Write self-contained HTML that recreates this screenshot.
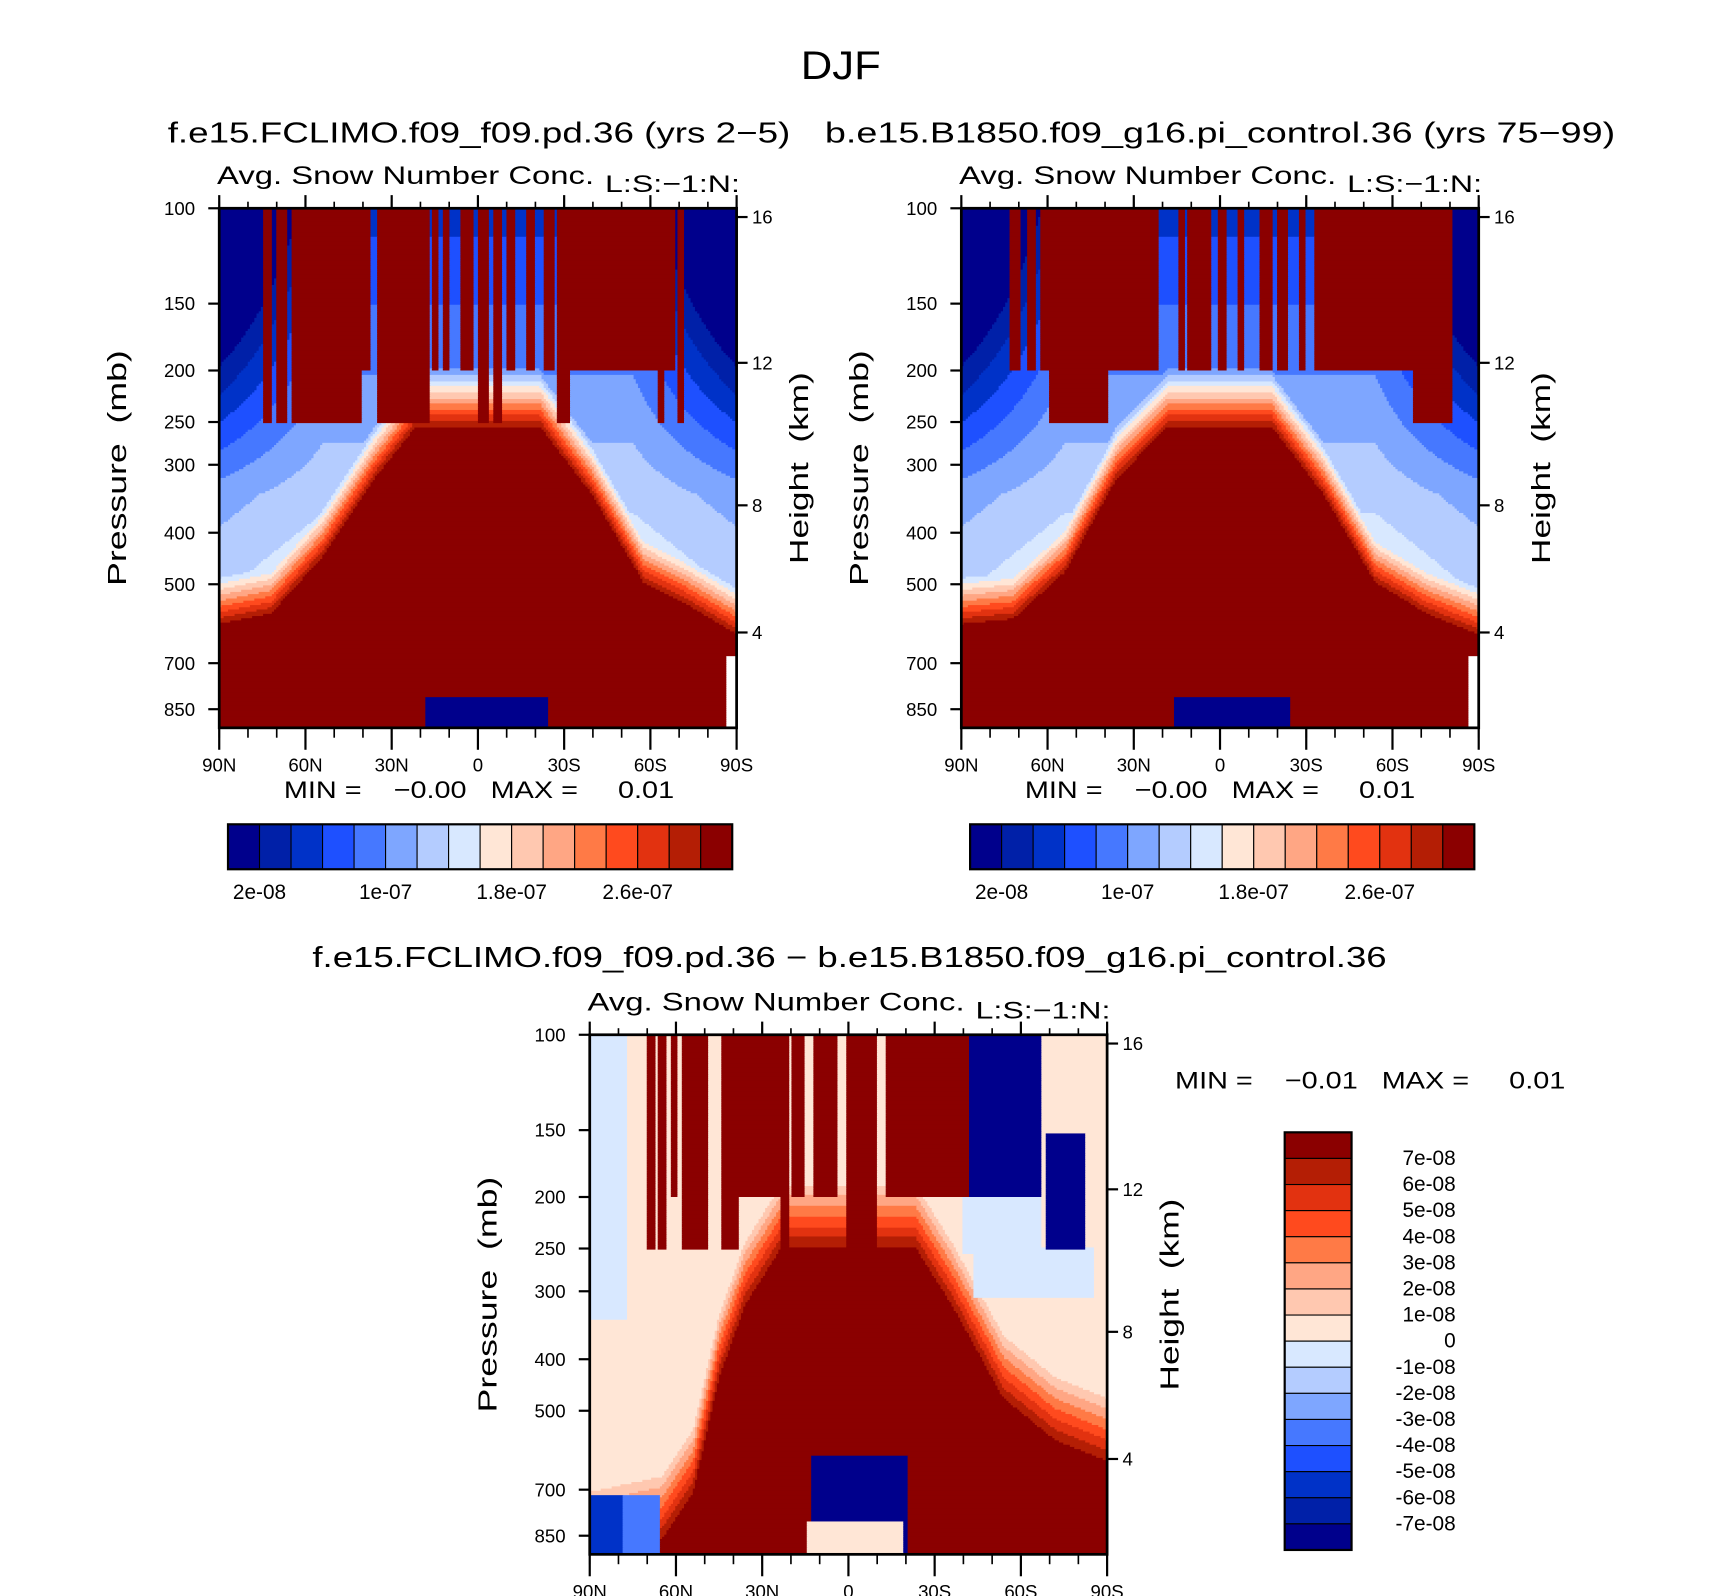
<!DOCTYPE html>
<html><head><meta charset="utf-8">
<style>
html,body{margin:0;padding:0;background:#fff}
#wrap{position:relative;width:1710px;height:1596px;overflow:hidden}
svg{position:absolute;left:0;top:0}
text{font-family:"Liberation Sans",sans-serif;fill:#000;white-space:pre}
</style></head>
<body>
<div id="wrap">
<svg id="fig" width="1710" height="1596" viewBox="0 0 1560 1456"></svg>
</div>
<script>
// ---- data ----
const palette=["#00008c","#0020a8","#0032c8","#1e50ff","#4678ff","#7ea6ff","#b4ccff","#d8e8ff","#ffe6d6","#ffc8b0","#ffa684","#ff7a46","#ff4a1e","#e23210","#b41e05","#8b0000"];
const seqLabels=["2e-08","1e-07","1.8e-07","2.6e-07"];
const seqLabelIdx=[1,5,9,13];
const diffLabels=["7e-08","6e-08","5e-08","4e-08","3e-08","2e-08","1e-08","0","-1e-08","-2e-08","-3e-08","-4e-08","-5e-08","-6e-08","-7e-08"];
const presTicks=[100,150,200,250,300,400,500,700,850];
const presPos=[0,87,148,195,234,296,343,415,457];
const htTicks=[16,12,8,4];
const htPos=[8,141,271,387];
const latLabels=["90N","60N","30N","0","30S","60S","90S"];
const dome1=[[0,.80],[.1,.78],[.2,.67],[.3,.52],[.38,.42],[.62,.42],[.72,.55],[.82,.72],[.9,.76],[1,.82]];
const dome2=[[0,.80],[.1,.79],[.2,.70],[.3,.52],[.4,.42],[.6,.42],[.7,.55],[.8,.72],[.9,.78],[1,.82]];
const dome3=[[0,1.0],[.14,.97],[.2,.88],[.25,.66],[.3,.52],[.37,.41],[.63,.41],[.7,.52],[.8,.70],[.9,.78],[1,.82]];
const cols1=[[40,47,195],[53,62,195],[66,77,195],[77,130,195],[130,138,148],[145,192,195],[195,200,148],[205,210,148],[220,232,148],[237,245,195],[250,258,195],[263,270,148],[280,288,148],[297,305,148],[308,320,195],[320,415,148],[400,406,195],[418,424,195]];
const cols2=[[45,53,148],[60,68,148],[73,79,148],[81,133,195],[133,180,148],[198,203,148],[206,228,148],[235,241,148],[253,258,148],[273,283,148],[288,298,148],[308,313,148],[323,413,148],[413,448,195]];
const cols3=[[52,60,195],[62,70,195],[75,80,148],[85,100,195],[100,108,195],[120,135,195],[135,175,148],[175,182,195],[185,195,148],[205,225,148],[235,262,195],[270,300,148],[300,347,148]];
const navy3=[[347,412,0,148],[417,452,90,195]];

function interp(pts,x){for(let i=1;i<pts.length;i++){if(x<=pts[i][0]){const a=pts[i-1],b=pts[i];return a[1]+(b[1]-a[1])*(x-a[0])/(b[0]-a[0]);}}return pts[pts.length-1][1];}
const W=472,H=474;
function field(kind,x,y){
  const px=x*W,py=y*H;
  if(kind<3){
    const dome=kind==1?dome1:dome2, cols=kind==1?cols1:cols2;
    for(const c of cols){if(px>=c[0]&&px<=c[1]&&py<=c[2])return 15;}
    if(kind==1&&px>188&&px<300&&py>445)return 0;
    if(kind==2&&px>193&&px<300&&py>445)return 0;
    if(px>462&&py>0.86*H)return -1;
    const yb=interp(dome,x);const d=yb-y;
    if(d<=0)return 15;
    const pole=Math.max(0,Math.abs(x-0.5)-0.3)/0.2;
    const pw=Math.max(0,1-y/0.55);
    let bg=2.6+y*7.5-pole*6*pw-pole*1.2;
    const v=Math.max(bg,15-d/0.011);
    return Math.max(0,Math.min(15,Math.floor(v)));
  } else {
    for(const c of navy3){if(px>=c[0]&&px<=c[1]&&py>=c[2]&&py<=c[3])return 0;}
    for(const c of cols3){if(px>=c[0]&&px<=c[1]&&py<=c[2])return 15;}
    if(px>197&&px<287&&py>444)return 8;
    if(px>202&&px<290&&py>384)return 0;
    if(px<65&&py>420)return px<30?2:4;
    const yb=interp(dome3,x);const d=yb-y;
    if(d<=0)return 15;
    if(px<35&&py<260)return 7;
    if(px>340&&px<412&&py<200)return 7;
    if(px>350&&px<460&&py>=195&&py<240)return 7;
    return Math.max(8,Math.floor(15-d/0.02));
  }
}
const svg=document.getElementById('fig');const NS="http://www.w3.org/2000/svg";
function el(tag,attrs,parent){const e=document.createElementNS(NS,tag);for(const k in attrs)e.setAttribute(k,attrs[k]);(parent||svg).appendChild(e);return e;}
function txt(s,x,y,size,anchor,name,rot,len){const t=el('text',{x:x,y:y,'font-size':size,'text-anchor':anchor||'middle'});if(rot)t.setAttribute('transform','rotate(-90 '+x+' '+y+')');if(len){t.setAttribute('textLength',len);t.setAttribute('lengthAdjust','spacingAndGlyphs');}t.setAttribute('xml:space','preserve');t.textContent=s;return t;}

function panel(kind,L,T,title,titleX,titleY,titleLen,name){
  const g=el('g',{});
  
  
  const step=2;
  for(let yy=0;yy<H;yy+=step){
    let run=null,start=0;
    for(let xx=0;xx<=W;xx+=step){
      const v=xx<W?field(kind,(xx+1)/W,(yy+1)/H):-2;
      if(v!==run){
        if(run!==null&&run>=0){el('rect',{x:L+start,y:T+yy,width:xx-start+0.6,height:step+0.6,fill:palette[run]},g);}
        run=v;start=xx;
      }
    }
  }
  const fr=el('rect',{x:L,y:T,width:W,height:H,fill:'none',stroke:'#000','stroke-width':2.5},g);
  
  
  presTicks.forEach((p,i)=>{const y=T+presPos[i];el('line',{x1:L-10,x2:L,y1:y,y2:y,stroke:'#000','stroke-width':2},g);txt(String(p),L-22,y+6,17,'end','pressure-tick-label');});
  htTicks.forEach((h,i)=>{const y=T+htPos[i];el('line',{x1:L+W,x2:L+W+10,y1:y,y2:y,stroke:'#000','stroke-width':2},g);txt(String(h),L+W+14,y+6,17,'start','height-tick-label');});
  latLabels.forEach((s,i)=>{const x=L+i*W/6;el('line',{x1:x,x2:x,y1:T+H,y2:T+H+20,stroke:'#000','stroke-width':2},g);el('line',{x1:x,x2:x,y1:T-12,y2:T,stroke:'#000','stroke-width':2},g);txt(s,x,T+H+40,17,'middle','lat-tick-label');});
  for(let i=0;i<=18;i++){const x=L+i*W/18;el('line',{x1:x,x2:x,y1:T+H,y2:T+H+9,stroke:'#000','stroke-width':1.5},g);el('line',{x1:x,x2:x,y1:T-6,y2:T,stroke:'#000','stroke-width':1.5},g);}
  txt('Pressure  (mb)',L-85,T+H/2,24,'middle','y-axis-title',true,215);
  txt('Height  (km)',L+W+65,T+H/2,24,'middle','y2-axis-title',true,175);
  txt('Avg. Snow Number Conc.',L-2,T-22,23,'start','subtitle',false,344);
  txt('L:S:\u22121:N:',L+W+3,T-15,22,'end','level-label',false,123);
  if(title)txt(title,titleX,titleY,26,'middle','panel-title',false,titleLen);
}
panel(1,200,190,'f.e15.FCLIMO.f09_f09.pd.36 (yrs 2\u22125)',437,130,568,'panel-left');
panel(2,877,190,'b.e15.B1850.f09_g16.pi_control.36 (yrs 75\u221299)',1113,130,721,'panel-right');
panel(3,538,944,'f.e15.FCLIMO.f09_f09.pd.36 \u2212 b.e15.B1850.f09_g16.pi_control.36',775,882,980,'panel-diff');
txt('DJF',767,72,36,'middle','main-title',false,73);
txt('MIN =    \u22120.00   MAX =     0.01',437,728,22,'middle','minmax-left',false,356);
txt('MIN =    \u22120.00   MAX =     0.01',1113,728,22,'middle','minmax-right',false,356);
txt('MIN =    \u22120.01   MAX =     0.01',1250,993,22,'middle','minmax-diff',false,356);
[208,885].forEach((x0,k)=>{
  const g=el('g',{});
  const w=460/16;
  palette.forEach((c,i)=>{el('rect',{x:x0+i*w,y:752,width:w,height:41,fill:c,stroke:'#000','stroke-width':1},g);});
  el('rect',{x:x0,y:752,width:460,height:41,fill:'none',stroke:'#000','stroke-width':2},g);
  seqLabels.forEach((s,i)=>txt(s,x0+seqLabelIdx[i]*w,820,19,'middle','colorbar-label'));
});
{
  const g=el('g',{});
  const h=381/16;
  palette.slice().reverse().forEach((c,i)=>{el('rect',{x:1172,y:1033+i*h,width:61,height:h,fill:c,stroke:'#000','stroke-width':1},g);});
  el('rect',{x:1172,y:1033,width:61,height:381,fill:'none',stroke:'#000','stroke-width':2},g);
  diffLabels.forEach((s,i)=>{const y=1033+(i+1)*h;txt(s,1328,y+6,19,'end','colorbar-label');});
}
</script>
</body></html>
